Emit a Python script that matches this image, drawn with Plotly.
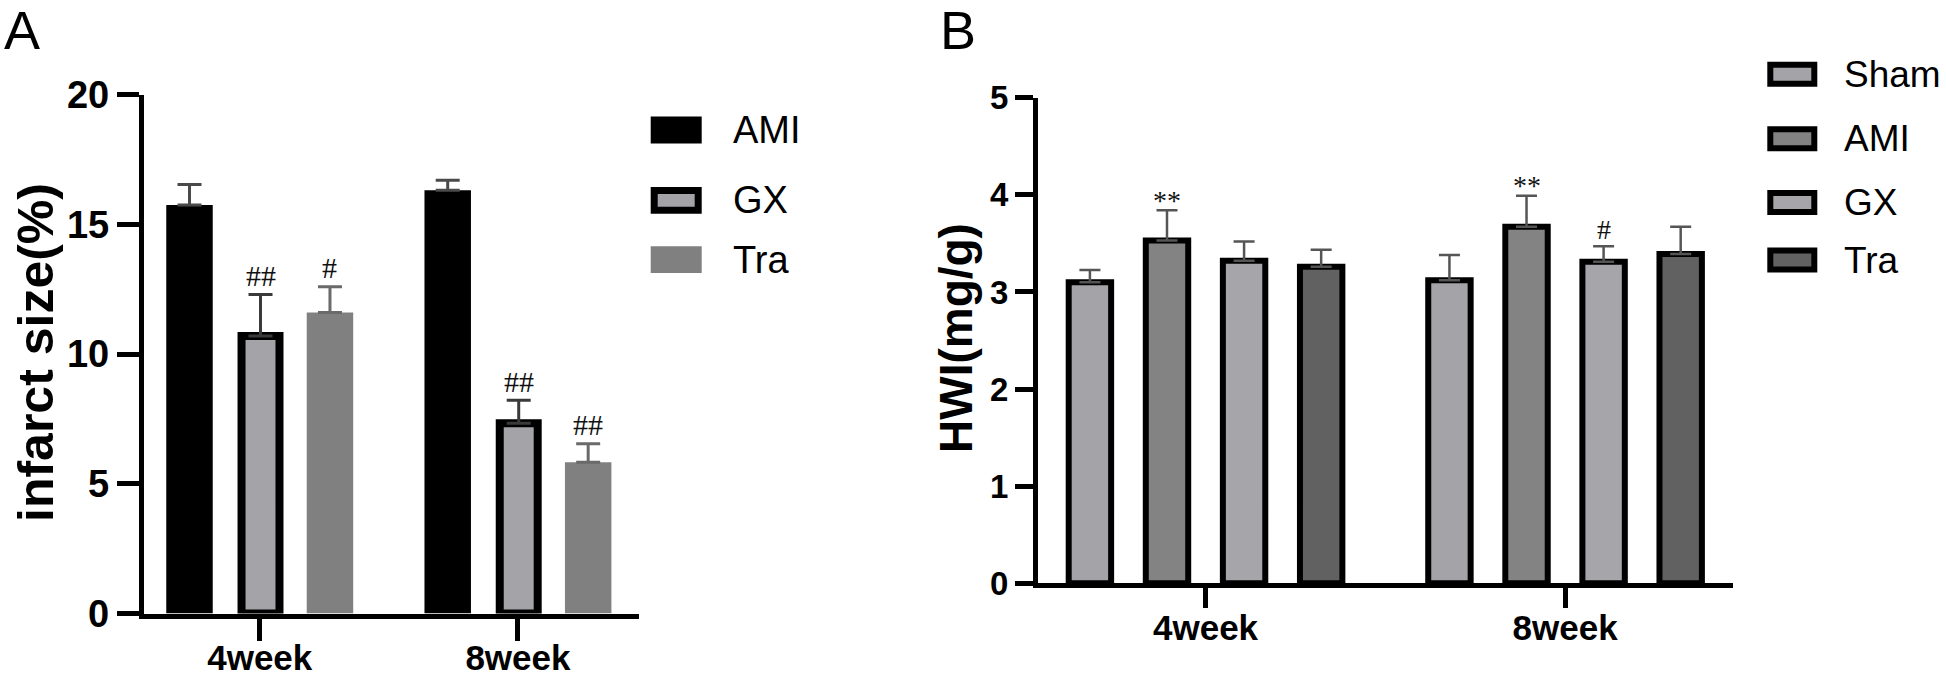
import plotly.graph_objects as go

W, H = 1946, 681

# ---------------- data ----------------
categories = ["4week", "8week"]

a_groups = ["AMI", "GX", "Tra"]
a_ami = [15.75, 16.32]
a_ami_sem = [0.79, 0.38]
a_gx = [10.70, 7.33]
a_gx_sem = [1.60, 0.89]
a_tra = [11.60, 5.83]
a_tra_sem = [1.00, 0.71]
a_marks_gx = ["##", "##"]
a_marks_tra = ["#", "##"]
a_yticks = [0, 5, 10, 15, 20]
a_ytitle = "infarct size(%)"

b_groups = ["Sham", "AMI", "GX", "Tra"]
b_sham = [3.10, 3.12]
b_sham_sem = [0.125, 0.26]
b_ami = [3.53, 3.67]
b_ami_sem = [0.31, 0.32]
b_gx = [3.32, 3.31]
b_gx_sem = [0.20, 0.16]
b_tra = [3.26, 3.39]
b_tra_sem = [0.175, 0.28]
b_marks_ami = ["**", "**"]
b_marks_gx = ["", "#"]
b_yticks = [0, 1, 2, 3, 4, 5]
b_ytitle = "HWI(mg/g)"

# ---------------- helpers ----------------
SANS = "Liberation Sans, Arial, sans-serif"
SERIF = "Liberation Serif, Times New Roman, serif"


def px(x):
    return x / W


def py(y):
    return 1 - y / H


fig = go.Figure()

# ---------------- panel A ----------------
a_pitch = 0.272
a_series = [
    (a_groups[0], a_ami, a_ami_sem, "#000000", 0, "#000000", 0.180, -a_pitch, "#4a4a4a"),
    (a_groups[1], a_gx, a_gx_sem, "#a3a3a8", 8, "#000000", 0.147, 0.003, "#3a3a3a"),
    (a_groups[2], a_tra, a_tra_sem, "#808080", 0, "#808080", 0.180, a_pitch, "#6a6a6a"),
]
for name, vals, sem, fill, lw, lc, wd, ctr, ec in a_series:
    fig.add_trace(go.Bar(
        x=categories, y=vals, name=name, xaxis="x", yaxis="y",
        width=wd, offset=ctr - wd / 2,
        marker=dict(color=fill, line=dict(width=lw, color=lc)),
        error_y=dict(type="data", array=sem, arrayminus=[0] * len(sem), symmetric=False,
                     color=ec, thickness=3, width=12),
        showlegend=False, hoverinfo="skip",
    ))

# ---------------- panel B ----------------
b_pitch = 0.2144
b_w = 0.118
b_series = [
    (b_groups[0], b_sham, b_sham_sem, "#a3a3a8", -1.5 * b_pitch),
    (b_groups[1], b_ami, b_ami_sem, "#838383", -0.5 * b_pitch),
    (b_groups[2], b_gx, b_gx_sem, "#a6a6aa", 0.5 * b_pitch),
    (b_groups[3], b_tra, b_tra_sem, "#616161", 1.5 * b_pitch),
]
for name, vals, sem, fill, ctr in b_series:
    fig.add_trace(go.Bar(
        x=categories, y=vals, name=name, xaxis="x2", yaxis="y2",
        width=b_w, offset=ctr - b_w / 2,
        marker=dict(color=fill, line=dict(width=6, color="#000000")),
        error_y=dict(type="data", array=sem, arrayminus=[0] * len(sem), symmetric=False,
                     color="#555555", thickness=2.5, width=10.5),
        showlegend=False, hoverinfo="skip",
    ))

annotations = []
shapes = []

# significance marks A
for marks, vals, sem, ctr in [(a_marks_gx, a_gx, a_gx_sem, 0.003), (a_marks_tra, a_tra, a_tra_sem, a_pitch)]:
    for i, m in enumerate(marks):
        if m:
            annotations.append(dict(x=i + ctr, y=vals[i] + sem[i], xref="x", yref="y", text=m,
                                    showarrow=False, yanchor="middle", yshift=19,
                                    font=dict(family=SERIF, size=30, color="#111")))
# significance marks B
for marks, vals, sem, ctr in [(b_marks_ami, b_ami, b_ami_sem, -0.5 * b_pitch), (b_marks_gx, b_gx, b_gx_sem, 0.5 * b_pitch)]:
    for i, m in enumerate(marks):
        if m:
            annotations.append(dict(x=i + ctr, y=vals[i] + sem[i], xref="x2", yref="y2", text=m,
                                    showarrow=False, yanchor="middle",
                                    yshift=10 if "*" in m else 17,
                                    font=dict(family=SERIF, size=28, color="#111")))

# axis titles
annotations.append(dict(x=px(36), y=py(353), xref="paper", yref="paper", text=a_ytitle,
                        textangle=-90, showarrow=False, xanchor="center", yanchor="middle",
                        font=dict(family=SANS, size=50, color="#000", weight="bold")))
annotations.append(dict(x=px(956), y=py(338), xref="paper", yref="paper", text=b_ytitle,
                        textangle=-90, showarrow=False, xanchor="center", yanchor="middle",
                        font=dict(family=SANS, size=46, color="#000", weight="bold")))
# panel letters
annotations.append(dict(x=0, y=1, xref="paper", yref="paper", text="A",
                        showarrow=False, xanchor="left", yanchor="top", xshift=2, yshift=2,
                        font=dict(family=SANS, size=54, color="#000")))
annotations.append(dict(x=px(938), y=1, xref="paper", yref="paper", text="B",
                        showarrow=False, xanchor="left", yanchor="top", yshift=2,
                        font=dict(family=SANS, size=54, color="#000")))

# legend A (drawn)
a_leg = [
    (a_groups[0], "#000000", 0, 130.0),
    (a_groups[1], "#a3a3a8", 7, 200.3),
    (a_groups[2], "#808080", 0, 259.7),
]
for name, fill, lw, cy in a_leg:
    x0, x1 = 650.7, 701.7
    y0, y1 = cy - 13.4, cy + 13.4
    shapes.append(dict(type="rect", xref="paper", yref="paper",
                       x0=px(x0 + lw / 2), x1=px(x1 - lw / 2), y0=py(y0 + lw / 2), y1=py(y1 - lw / 2),
                       fillcolor=fill, line=dict(width=lw, color="#000") if lw else dict(width=0)))
    annotations.append(dict(x=px(731), y=py(cy), xref="paper", yref="paper", text=name,
                            showarrow=False, xanchor="left", yanchor="middle",
                            font=dict(family=SANS, size=38, color="#000")))

# legend B (drawn)
b_leg = [
    (b_groups[0], "#a3a3a8", 74.2),
    (b_groups[1], "#838383", 138.8),
    (b_groups[2], "#a6a6aa", 202.5),
    (b_groups[3], "#616161", 260.0),
]
for name, fill, cy in b_leg:
    lw = 6
    x0, x1 = 1767.3, 1817.3
    y0, y1 = cy - 12.5, cy + 12.5
    shapes.append(dict(type="rect", xref="paper", yref="paper",
                       x0=px(x0 + lw / 2), x1=px(x1 - lw / 2), y0=py(y0 + lw / 2), y1=py(y1 - lw / 2),
                       fillcolor=fill, line=dict(width=lw, color="#000")))
    annotations.append(dict(x=px(1842), y=py(cy), xref="paper", yref="paper", text=name,
                            showarrow=False, xanchor="left", yanchor="middle",
                            font=dict(family=SANS, size=37, color="#000")))

axis_common = dict(showgrid=False, zeroline=False, showline=True, linecolor="#000",
                   ticks="outside", tickcolor="#000", fixedrange=True, automargin=False)

fig.update_layout(
    template="none",
    width=W, height=H,
    margin=dict(l=0, r=0, t=0, b=0, pad=0, autoexpand=False),
    paper_bgcolor="white", plot_bgcolor="white",
    barmode="overlay",
    showlegend=False,
    xaxis=dict(domain=[px(143.8), px(639.3)], range=[-0.449, 1.470], type="category",
               linewidth=5, tickwidth=5, ticklen=22, ticklabelstandoff=-13,
               tickfont=dict(family=SANS, size=35, color="#000", weight="bold"),
               anchor="y", **axis_common),
    yaxis=dict(domain=[py(613.5), py(94.7)], range=[0, 20], tickvals=a_yticks,
               linewidth=5, tickwidth=5, ticklen=22,
               tickfont=dict(family=SANS, size=38, color="#000", weight="bold"),
               anchor="x", **axis_common),
    xaxis2=dict(domain=[px(1038), px(1732.6)], range=[-0.466, 1.466], type="category",
                linewidth=5, tickwidth=5, ticklen=20, ticklabelstandoff=-10,
                tickfont=dict(family=SANS, size=35, color="#000", weight="bold"),
                anchor="y2", **axis_common),
    yaxis2=dict(domain=[py(583.3), py(97.7)], range=[0, 5], tickvals=b_yticks,
                linewidth=5, tickwidth=5, ticklen=18,
                tickfont=dict(family=SANS, size=33, color="#000", weight="bold"),
                anchor="x2", **axis_common),
    annotations=annotations,
    shapes=shapes,
)

fig.write_html("out.html", config={"displayModeBar": False, "staticPlot": True},
               post_script="document.body.style.margin='0px';")
